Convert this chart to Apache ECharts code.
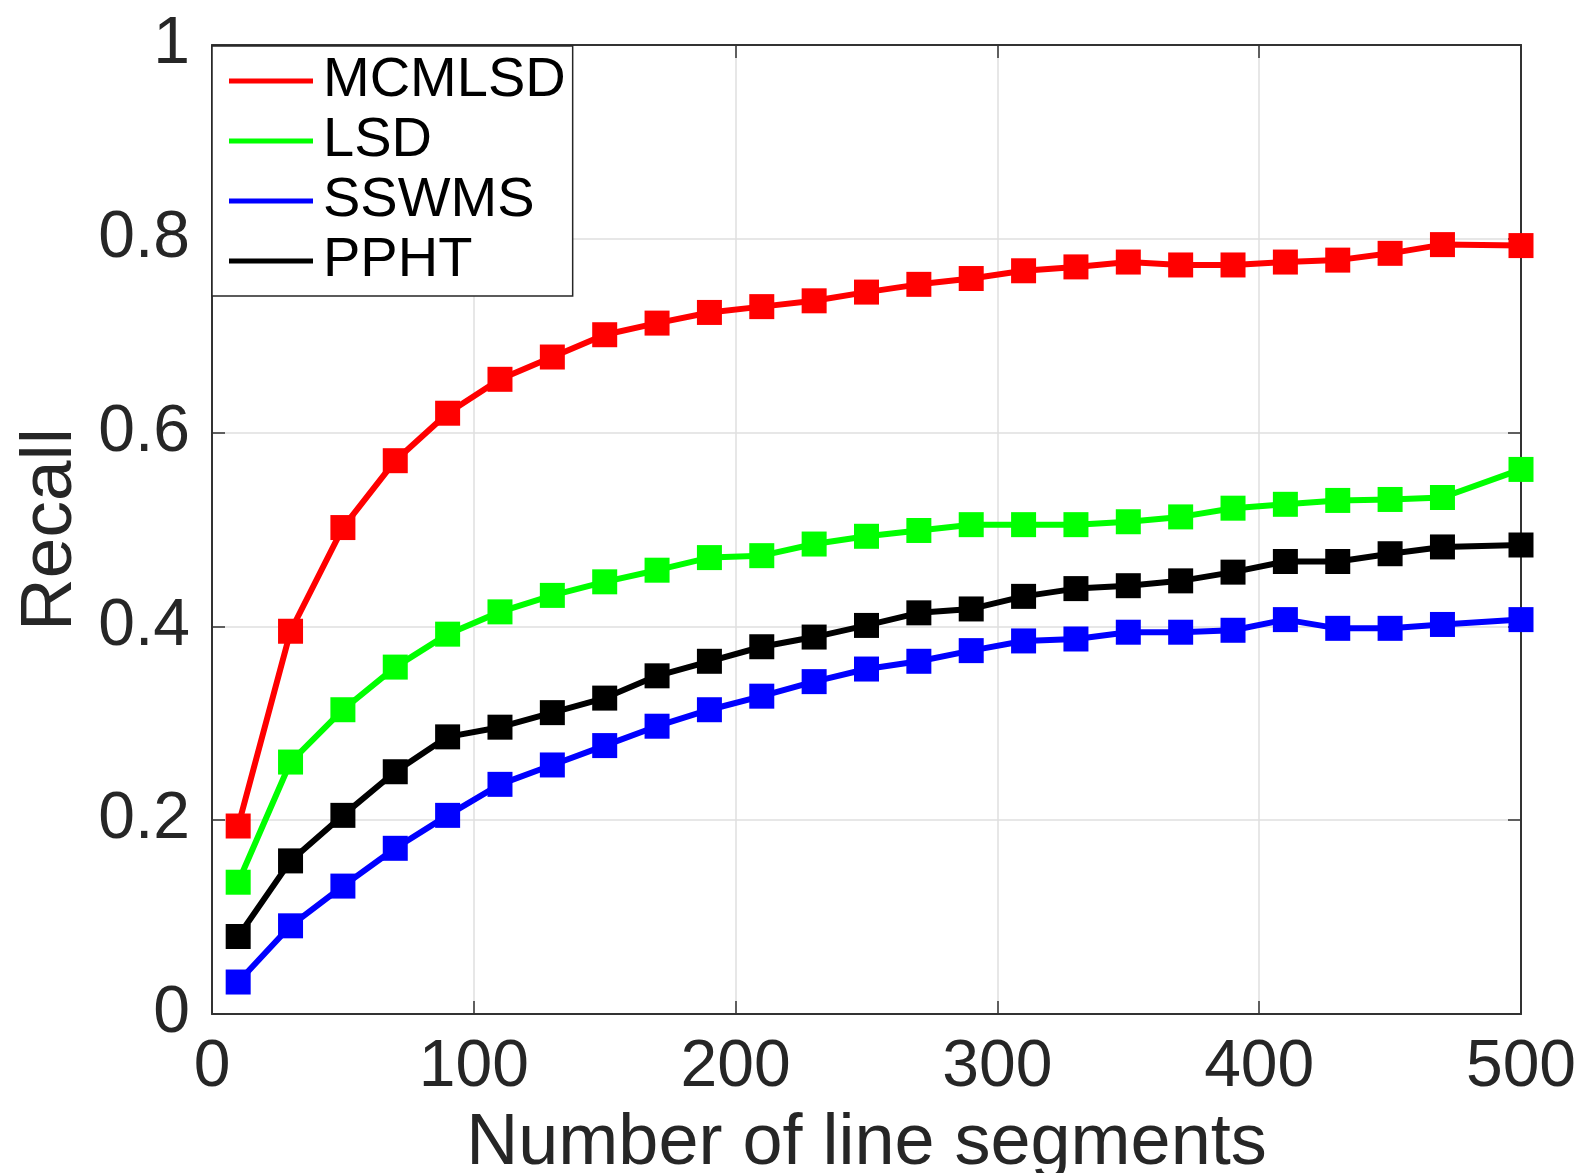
<!DOCTYPE html>
<html>
<head>
<meta charset="utf-8">
<script src="https://cdn.jsdelivr.net/npm/echarts@6/dist/echarts.min.js"></script>
<style>
html,body{margin:0;padding:0;background:#fff;}
#chart{width:1583px;height:1173px;}
</style>
</head>
<body>
<div id="chart"></div>
<script>
var xValues = [10,30,50,70,90,110,130,150,170,190,210,230,250,270,290,310,330,350,370,390,410,430,450,470,500];
var seriesNames = ['MCMLSD','LSD','SSWMS','PPHT'];
var mcmlsd = [0.194,0.395,0.502,0.571,0.620,0.655,0.678,0.701,0.713,0.724,0.730,0.736,0.745,0.753,0.759,0.767,0.771,0.776,0.773,0.773,0.776,0.778,0.785,0.794,0.793];
var lsd = [0.136,0.260,0.314,0.358,0.392,0.415,0.432,0.446,0.458,0.471,0.473,0.485,0.493,0.499,0.505,0.505,0.505,0.508,0.513,0.522,0.526,0.530,0.531,0.533,0.562];
var sswms = [0.033,0.091,0.132,0.171,0.205,0.237,0.257,0.277,0.297,0.314,0.328,0.343,0.356,0.364,0.375,0.385,0.387,0.394,0.394,0.396,0.407,0.398,0.398,0.402,0.407];
var ppht = [0.080,0.158,0.205,0.250,0.286,0.296,0.311,0.326,0.349,0.364,0.379,0.389,0.401,0.414,0.418,0.431,0.439,0.442,0.447,0.456,0.467,0.467,0.475,0.482,0.484];
var seriesColors = ['#ff0000','#00ff00','#0000ff','#000000'];
var xTicks = [0,100,200,300,400,500];
var yTicks = [0,0.2,0.4,0.6,0.8,1];

var FONT = "'Liberation Sans', Arial, Helvetica, sans-serif";
var AX = '#262626';

function pairs(ys){ return xValues.map(function(x,i){ return [x, ys[i]]; }); }
var allY = [mcmlsd, lsd, sswms, ppht];

var chart = echarts.init(document.getElementById('chart'), null, {renderer:'canvas'});

function baseAxis(extra){
  return Object.assign({
    axisLine:{show:true, onZero:false, lineStyle:{color:'#333', width:2}},
    axisTick:{show:true, inside:true, length:13, lineStyle:{color:'#333', width:1.5}},
    splitLine:{show:false}
  }, extra);
}

var option = {
  backgroundColor:'#fff',
  animation:false,
  grid:{left:212, top:45, width:1309, height:969, show:false, containLabel:false, outerBoundsMode:'none'},
  legend:{
    left:212, top:46, orient:'vertical',
    padding:[5,7,5,17], itemGap:0, itemWidth:84, itemHeight:5,
    icon:'rect', backgroundColor:'#fff', borderColor:AX, borderWidth:1.5, borderRadius:0,
    textStyle:{fontFamily:FONT, fontSize:56, lineHeight:60, color:'#000', padding:[0,0,0,5]},
    data: seriesNames,
    z:10
  },
  xAxis:[
    baseAxis({
      type:'value', min:xTicks[0], max:xTicks[xTicks.length-1], interval:xTicks[1]-xTicks[0],
      position:'bottom',
      name:'Number of line segments', nameLocation:'middle', nameGap:94,
      nameTextStyle:{fontFamily:FONT, fontSize:72, color:AX},
      axisLabel:{show:true, margin:21, fontFamily:FONT, fontSize:66, color:AX, showMinLabel:true, showMaxLabel:true},
      splitLine:{show:true, lineStyle:{color:'#dfdfdf', width:1.5}}
    }),
    baseAxis({
      type:'value', min:xTicks[0], max:xTicks[xTicks.length-1], interval:xTicks[1]-xTicks[0],
      position:'top', axisLabel:{show:false}
    })
  ],
  yAxis:[
    baseAxis({
      type:'value', min:yTicks[0], max:yTicks[yTicks.length-1], interval:yTicks[1]-yTicks[0],
      position:'left',
      name:'Recall', nameLocation:'middle', nameGap:124, nameRotate:90,
      nameTextStyle:{fontFamily:FONT, fontSize:73, color:AX},
      axisLabel:{show:true, margin:22, fontFamily:FONT, fontSize:66, color:AX, showMinLabel:true, showMaxLabel:true},
      splitLine:{show:true, lineStyle:{color:'#dfdfdf', width:1.5}}
    }),
    baseAxis({
      type:'value', min:yTicks[0], max:yTicks[yTicks.length-1], interval:yTicks[1]-yTicks[0],
      position:'right', axisLabel:{show:false}
    })
  ],
  series: seriesNames.map(function(n,i){
    return {
      name:n, type:'line', data:pairs(allY[i]),
      xAxisIndex:0, yAxisIndex:0,
      color:seriesColors[i],
      lineStyle:{color:seriesColors[i], width:6},
      itemStyle:{color:seriesColors[i]},
      symbol:'rect', symbolSize:25, showSymbol:true,
      clip:false, z:3
    };
  })
};
chart.setOption(option);
</script>
</body>
</html>
